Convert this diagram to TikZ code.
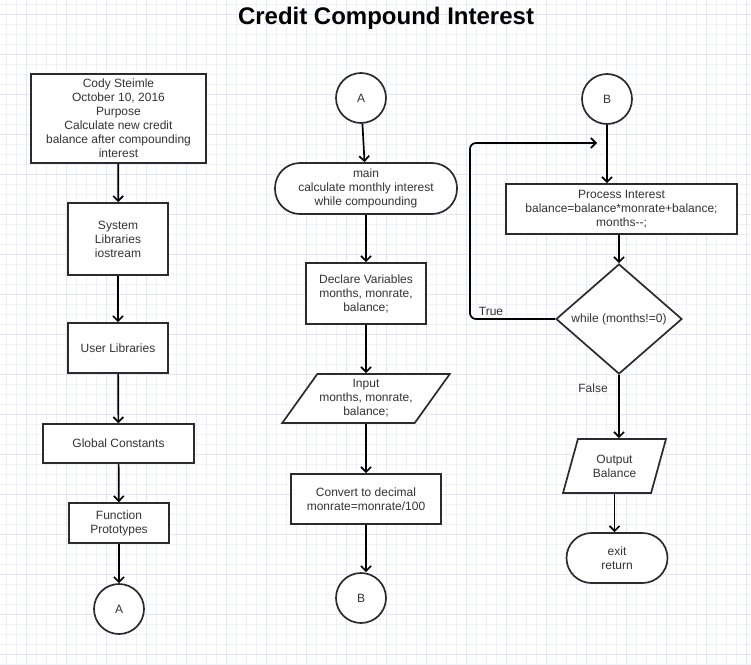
\documentclass[tikz,border=0pt]{standalone}
\usepackage{fontspec}
\setmainfont{Liberation Sans}
\usetikzlibrary{arrows.meta, shapes.geometric}
\definecolor{gridminor}{HTML}{F0F0FC}
\definecolor{gridmajor}{HTML}{E4E4FA}
\definecolor{inktext}{HTML}{333333}
\definecolor{inkline}{HTML}{2B2B2B}

\begin{document}
\begin{tikzpicture}[
    x=1pt, y=-1pt,
    every node/.style={font=\fontsize{12}{14}\selectfont, text=inktext, align=center},
    procbox/.style={draw=inkline, line width=1.7pt, fill=white, inner sep=2pt},
    termbox/.style={procbox, rounded corners=25pt},
    iobox/.style={procbox, trapezium, trapezium stretches=true},
    decide/.style={procbox, diamond, inner sep=0pt},
    conn/.style={draw=inkline, circle, line width=1.7pt, fill=white, minimum size=50pt, inner sep=0pt},
    arr/.style={->, line width=1.7pt},
    >={Straight Barb[length=5pt,width=10pt]},
  ]
  \useasboundingbox (0,0) rectangle (751,664);
  \fill[white] (0,0) rectangle (751,664);
  % background grid
  \foreach \gx in {6,16,...,746} \draw[gridminor, line width=1pt] (\gx,0) -- (\gx,664);
  \foreach \gy in {4,14,...,664} \draw[gridminor, line width=1pt] (0,\gy) -- (751,\gy);
  \foreach \gx in {26,66,...,746} \draw[gridmajor, line width=1pt] (\gx,0) -- (\gx,664);
  \foreach \gy in {14,54,...,654} \draw[gridmajor, line width=1pt] (0,\gy) -- (751,\gy);

  \node[font=\bfseries\fontsize{24}{28}\selectfont, text=black] (title) at (386,18) {Credit Compound Interest};

  % left column
  \node[procbox, minimum width=175, minimum height=89] (head) at (118.5,118.5) {Cody Steimle\\
    October 10, 2016\\
    Purpose\\
    Calculate new credit\\
    balance after compounding\\
    interest};
  \node[procbox, minimum width=100, minimum height=72] (syslib) at (118,239) {System\\ Libraries\\ iostream};
  \node[procbox, minimum width=100, minimum height=50] (usrlib) at (118,348) {User Libraries};
  \node[procbox, minimum width=151, minimum height=39] (consts) at (118.5,443.5) {Global Constants};
  \node[procbox, minimum width=100, minimum height=40] (protos) at (119,523) {Function\\ Prototypes};
  \node[conn] (outA) at (119,609) {A};

  \draw[arr] (head) -- (syslib);
  \draw[arr] (syslib) -- (usrlib);
  \draw[arr] (usrlib) -- (consts);
  \draw[arr] (consts) -- (protos);
  \draw[arr] (protos) -- (outA);

  % middle column
  \node[conn] (inA) at (361,98) {A};
  \node[termbox, minimum width=182, minimum height=51] (main) at (366,188.5) {main\\
    calculate monthly interest\\
    while compounding};
  \node[procbox, minimum width=120, minimum height=61] (declare) at (366,293.5) {Declare Variables\\ months, monrate,\\ balance;};
  \node[iobox, trapezium left angle=50, trapezium right angle=130, minimum width=162, minimum height=49] (input) at (366,398.5) {Input\\ months, monrate,\\ balance;};
  \node[procbox, minimum width=150, minimum height=50] (convert) at (366,499) {Convert to decimal\\ monrate=monrate/100};
  \node[conn] (outB) at (361,598) {B};

  \draw[arr] (inA) -- (main);
  \draw[arr] (main) -- (declare);
  \draw[arr] (declare) -- (input);
  \draw[arr] (input) -- (convert);
  \draw[arr] (convert.south) -- (convert.south |- outB.north);

  % right column
  \node[conn] (inB) at (607,99) {B};
  \node[procbox, minimum width=231, minimum height=50] (interest) at (621.5,209) {Process Interest\\
    balance=balance*monrate+balance;\\
    months-{}-;};
  \node[decide, minimum width=126, minimum height=110] (loop) at (619,319) {while (months!=0)};
  \node[iobox, trapezium left angle=70, trapezium right angle=110, minimum width=103, minimum height=54] (output) at (614.5,466) {Output\\ Balance};
  \node[termbox, minimum width=101, minimum height=50] (exit) at (617,558) {exit\\ return};
  \coordinate (loopcorner) at (470,143);
  \coordinate (loopin) at (597,143);

  \draw[arr] (inB) -- (inB |- interest.north);
  \draw[arr] (interest.south -| loop.north) -- (loop.north);
  \draw[arr, rounded corners=6pt] (loop.west) -| (loopcorner) -- (loopin);
  \draw[arr] (loop.south) -- (loop.south |- output.north);
  \draw[arr] (output.south) -- (output.south |- exit.north);

  \node (truelbl) at (491,311) {True};
  \node (falselbl) at (593,388) {False};
\end{tikzpicture}
\end{document}
